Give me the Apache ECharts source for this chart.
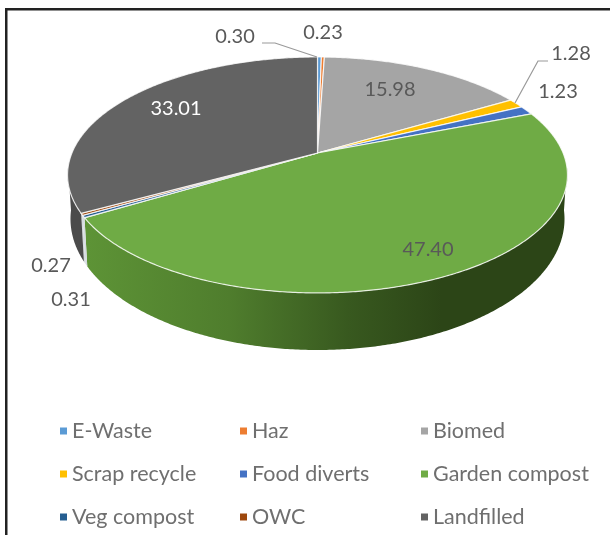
<!DOCTYPE html>
<html>
<head>
<meta charset="utf-8">
<style>
    html, body { margin: 0; padding: 0; background: #fff; }
    #main { width: 610px; height: 535px; }
</style>
<script src="https://cdn.jsdelivr.net/npm/echarts@6/dist/echarts.min.js"></script>
</head>
<body>
<div id="main"></div>
<script>
var categories = ['E-Waste', 'Haz', 'Biomed', 'Scrap recycle', 'Food diverts', 'Garden compost', 'Veg compost', 'OWC', 'Landfilled'];
var values = [0.30, 0.23, 15.98, 1.28, 1.23, 47.40, 0.31, 0.27, 33.01];
var legendColumns = [[0, 3, 6], [1, 4, 7], [2, 5, 8]];

var colors = ['#5b9bd5', '#ed7d31', '#a5a5a5', '#ffc000', '#4472c4', '#6fab45', '#255e91', '#9e480e', '#636363'];
var wallGreen = {
    type: 'linear', x: 88, y: 0, x2: 560, y2: 0, global: true,
    colorStops: [
        {offset: 0, color: '#5d9336'},
        {offset: 0.3, color: '#4f7d2d'},
        {offset: 0.55, color: '#38591f'},
        {offset: 0.75, color: '#2c4517'},
        {offset: 1, color: '#2c4517'}
    ]
};
var wallColors = ['#5b9bd5', '#ed7d31', '#8a8a8a', '#c99a00', '#35598f', wallGreen, '#d5dbe0', '#d5dbe0', '#4b4b4b'];

// top and bottom faces: a circle seen in perspective, k pulls the far side in
var topFace = {cx: 317.5, cy: 153, a: 245.6, b: 113.9, k: 0.186};
var bottomFace = {cx: 317.5, cy: 194.6, a: 242.7, b: 126.5, k: 0.186};

// labels: value index -> where the text sits, plus leader line if it has one
var labels = [
    {i: 0, x: 235, y: 37, line: [[262, 43], [275, 43], [317, 57]]},
    {i: 1, x: 323, y: 33},
    {i: 2, x: 390, y: 90},
    {i: 3, x: 571, y: 54, line: [[548, 61], [538, 61], [515, 103]]},
    {i: 4, x: 558, y: 92},
    {i: 5, x: 428, y: 250},
    {i: 6, x: 71, y: 300},
    {i: 7, x: 51, y: 266},
    {i: 8, x: 176, y: 109, color: '#fff'}
];

var total = values.reduce(function (a, b) { return a + b; }, 0);

function project(face, deg) {
    var t = deg * Math.PI / 180;
    var u = Math.sin(t), v = Math.cos(t);
    var w = 1 + face.k * v;
    return [face.cx + face.a * u / w, face.cy - face.b * v / w];
}

function arc(face, from, to) {
    var pts = [];
    var n = Math.max(2, Math.ceil((to - from) * 2));
    for (var i = 0; i <= n; i++) {
        pts.push(project(face, from + (to - from) * i / n));
    }
    return pts;
}

function renderSlice(params, api) {
    var idx = params.seriesIndex;
    var before = 0;
    for (var i = 0; i < idx; i++) before += values[i];
    var start = before / total * 360;
    var end = (before + api.value(0)) / total * 360;
    var children = [];

    // only the part of the rim that faces the viewer
    var wallFrom = Math.max(start, 97), wallTo = Math.min(end, 263);
    if (wallTo > wallFrom) {
        children.push({
            type: 'polygon',
            z2: 1,
            shape: {points: arc(topFace, wallFrom, wallTo).concat(arc(bottomFace, wallFrom, wallTo).reverse())},
            style: {fill: wallColors[idx]}
        });
    }

    children.push({
        type: 'polygon',
        z2: 2,
        shape: {points: [[topFace.cx, topFace.cy]].concat(arc(topFace, start, end))},
        style: {fill: colors[idx], stroke: 'rgba(255,255,255,0.8)', lineWidth: 1.2}
    });

    return {type: 'group', children: children};
}

var series = categories.map(function (name, i) {
    return {
        type: 'custom',
        name: name,
        coordinateSystem: 'none',
        silent: true,
        itemStyle: {color: colors[i]},
        renderItem: renderSlice,
        data: [[values[i]]]
    };
});

var labelGraphics = [];
labels.forEach(function (l) {
    labelGraphics.push({
        type: 'text',
        x: l.x, y: l.y,
        z: 10,
        style: {
            text: values[l.i].toFixed(2),
            fill: l.color || '#595959',
            font: '20px Lato',
            align: 'center',
            verticalAlign: 'middle'
        }
    });
    if (l.line) {
        labelGraphics.push({
            type: 'polyline',
            z: 10,
            shape: {points: l.line},
            style: {stroke: '#999', lineWidth: 1.2, fill: null}
        });
    }
});

// frame of the chart, cut off on the right and at the bottom
var frame = [
    {type: 'rect', shape: {x: 5, y: 8, width: 605, height: 2.5}, style: {fill: '#222'}, z: 10},
    {type: 'rect', shape: {x: 5, y: 8, width: 2.5, height: 527}, style: {fill: '#222'}, z: 10}
];

var legendLeft = [60, 240, 421];
var legends = legendColumns.map(function (col, c) {
    return {
        orient: 'vertical',
        left: legendLeft[c],
        top: 419.5,
        padding: 0,
        itemWidth: 7,
        itemHeight: 7,
        itemGap: 20,
        selectedMode: false,
        icon: 'rect',
        textStyle: {color: '#6f6f6f', fontSize: 21.5, fontFamily: 'Lato', lineHeight: 23},
        data: col.map(function (i) { return categories[i]; })
    };
});

var chart = echarts.init(document.getElementById('main'));
chart.setOption({
    animation: false,
    backgroundColor: '#fff',
    legend: legends,
    graphic: {elements: frame.concat(labelGraphics)},
    series: series
});
</script>
</body>
</html>
